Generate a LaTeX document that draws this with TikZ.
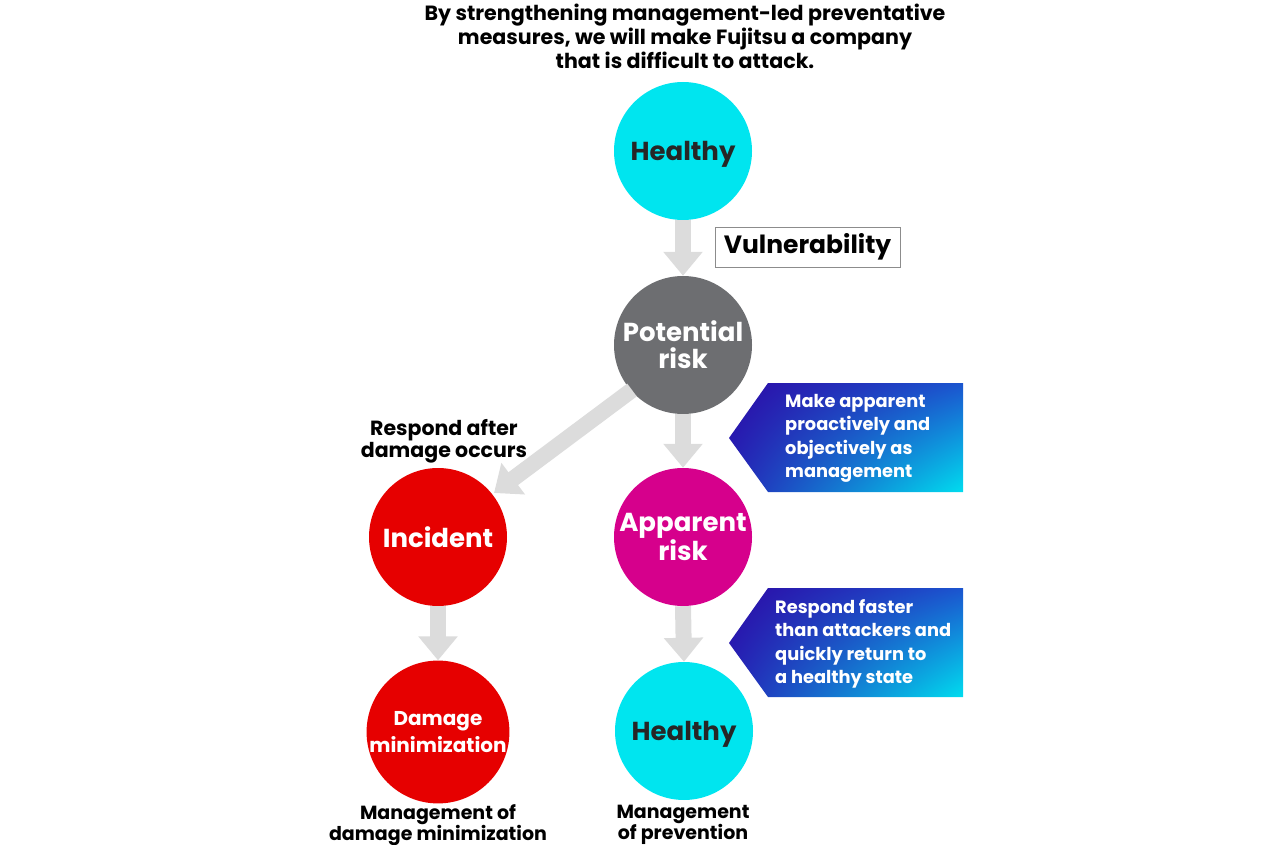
\documentclass[tikz,border=0pt]{standalone}
\usepackage{fontspec}
\setmainfont{Poppins}
\usetikzlibrary{arrows.meta,shadings}
\definecolor{cy}{HTML}{00E5EF}
\definecolor{gr}{HTML}{6D6E71}
\definecolor{mg}{HTML}{D6008C}
\definecolor{rd}{HTML}{E60000}
\definecolor{ar}{HTML}{DCDCDC}
\definecolor{bA}{HTML}{2C0AA6}
\definecolor{bB}{HTML}{1B55CF}
\definecolor{bC}{HTML}{2426B8}
\definecolor{bD}{HTML}{00DDEF}
\begin{document}
\begin{tikzpicture}[x=1pt,y=-1pt,
  circ/.style={circle,minimum size=138pt,inner sep=0pt,text=white,align=center,font=\bfseries\fontsize{26}{27}\selectfont},
  flow/.style={draw=ar,line width=16pt,-{Triangle[width=38pt,length=24pt]}},
  lbl/.style={align=center,font=\bfseries\fontsize{19}{21}\selectfont,text=black},
  bantext/.style={anchor=north west,align=left,text=white,font=\bfseries\fontsize{17.8}{23.5}\selectfont,inner sep=0pt},
  banner/.style={upper left=bA,upper right=bB,lower left=bC,lower right=bD}]
\useasboundingbox (0,0) rectangle (1280,845);
% title
\node[lbl,font=\bfseries\fontsize{20.6}{24}\selectfont] (title) at (685,36) {By strengthening management-led preventative\\measures, we will make Fujitsu a company\\that is difficult to attack.};
% arrows
\coordinate (dstart) at (632,390);
\coordinate (dend) at (494,493);
% circles
\node[circ,fill=cy,text=black!85,text depth=0pt] (h1) at (683,151) {Healthy};
\node[circ,fill=gr] (pr) at (683,345) {Potential\\risk};
\node[circ,fill=mg] (ap) at (683,537) {Apparent\\risk};
\node[circ,fill=cy,text=black!85,text depth=0pt] (h2) at (684,731) {Healthy};
\node[circ,fill=rd] (inc) at (438,537) {Incident};
\node[circ,fill=rd,font=\bfseries\fontsize{20}{27}\selectfont] (dm) at (438,732) {Damage\\minimization};
\draw[flow] (h1.south) -- (pr.north);
\draw[flow] (pr.south) -- (ap.north);
\draw[flow] (ap.south) -- (h2.north);
\draw[flow] (inc.south) -- (dm.north);
\draw[flow] (dstart) -- (dend);
% vulnerability
\node[draw=black!45,line width=0.8pt,minimum width=185pt,minimum height=40pt,inner sep=0pt,font=\bfseries\fontsize{25}{27}\selectfont] (vul) at (807.5,247) {Vulnerability};
% labels
\node[lbl,font=\bfseries\fontsize{20.5}{22}\selectfont] (rad) at (444,441) {Respond after\\damage occurs};
\node[lbl] (mdm) at (438,825) {Management of\\damage minimization};
\node[lbl] (mop) at (683,825) {Management\\of prevention};
% banners
\shade[banner] (768,383) -- (963,383) -- (963,492) -- (768,492) -- (729,438) -- cycle;
\node[bantext] (b1) at (785,394) {Make apparent\\proactively and\\objectively as\\management};
\shade[banner] (768,588) -- (963,588) -- (963,697) -- (768,697) -- (729,643) -- cycle;
\node[bantext] (b2) at (775,599) {Respond faster\\than attackers and\\quickly return to\\a healthy state};
\end{tikzpicture}
\end{document}
